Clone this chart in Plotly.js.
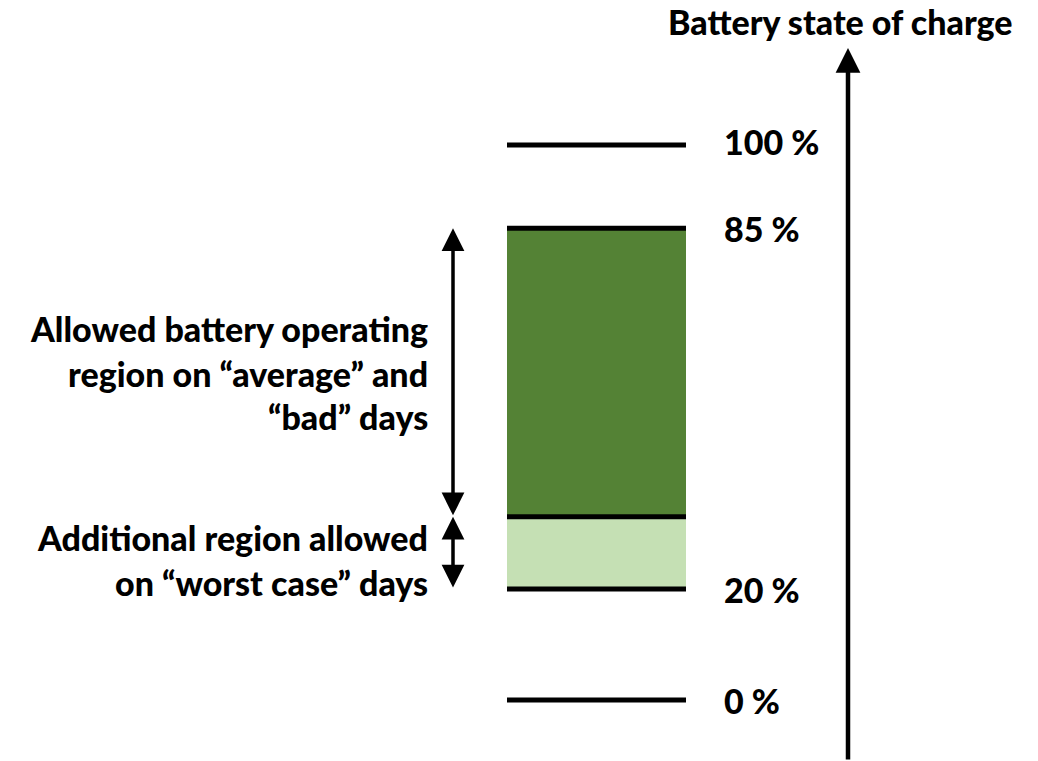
<!DOCTYPE html>
<html>
<head>
<meta charset="utf-8">
<script src="https://cdn.plot.ly/plotly-3.0.1.min.js"></script>
<style>
  body { margin: 0; background: #fff; }
  #chart { width: 1038px; height: 761px; }
</style>
</head>
<body>
<div id="chart"></div>
<script>
// state of charge levels (%)
const levels = [100, 85, 33, 20, 0];
const levelLabels = ['100 %', '85 %', '', '20 %', '0 %'];

// operating regions
const regionTop = [85, 33];
const regionBottom = [33, 20];
const regionColors = ['#548235', '#c5e0b4'];
const regionText = [
  ['Allowed battery operating', 'region on \u201caverage\u201d and', '\u201cbad\u201d days'],
  ['Additional region allowed', 'on \u201cworst case\u201d days']
];
// vertical position of each text line (in % units)
const regionTextY = [[66.9, 58.9, 51.0], [29.2, 21.1]];

const axisTitle = 'Battery state of charge';

const font = { family: 'Lato, "Open Sans", sans-serif', size: 34, color: '#000', weight: 900 };

function drawChart() {
  // coloured bands
  let bars = {
    type: 'bar',
    x: regionTop.map(() => 596.5),
    base: regionBottom,
    y: regionTop.map((t, i) => t - regionBottom[i]),
    width: regionTop.map(() => 179),
    marker: { color: regionColors, line: { width: 0 } },
    hoverinfo: 'skip'
  };

  // black level lines
  let lx = [], ly = [];
  for (let v of levels) {
    lx.push(507, 686, null);
    ly.push(v, v, null);
  }
  let lines = {
    type: 'scatter',
    mode: 'lines',
    x: lx,
    y: ly,
    line: { color: '#000', width: 5 },
    hoverinfo: 'skip'
  };

  let annotations = [];

  // level labels
  levels.forEach((v, i) => {
    if (!levelLabels[i]) return;
    annotations.push({
      x: 722, y: v, xref: 'x', yref: 'y',
      xanchor: 'left', yanchor: 'middle',
      yshift: v === 100 ? 4 : 0,
      text: levelLabels[i], showarrow: false, font: font
    });
  });

  // double arrows + region descriptions
  regionTop.forEach((t, i) => {
    annotations.push({
      x: 453, y: t, ax: 453, ay: regionBottom[i],
      xref: 'x', yref: 'y', axref: 'x', ayref: 'y',
      text: '', showarrow: true, arrowside: 'end+start',
      arrowhead: 2, arrowsize: 1.3, arrowwidth: 3.5, arrowcolor: '#000'
    });
    regionText[i].forEach((line, j) => {
      annotations.push({
        x: 430, y: regionTextY[i][j], xref: 'x', yref: 'y',
        xanchor: 'right', yanchor: 'middle',
        text: line, showarrow: false, font: font
      });
    });
  });

  // main axis arrow
  annotations.push({
    x: 848, y: 117.5, ax: 848, ay: -11,
    xref: 'x', yref: 'y', axref: 'x', ayref: 'y',
    text: '', showarrow: true,
    arrowhead: 2, arrowsize: 1.1, arrowwidth: 4.5, arrowcolor: '#000'
  });
  annotations.push({
    x: 840, y: 122.2, xref: 'x', yref: 'y',
    xanchor: 'center', yanchor: 'middle',
    text: axisTitle, showarrow: false, font: font
  });

  let layout = {
    width: 1038,
    height: 761,
    margin: { l: 0, r: 0, t: 0, b: 0 },
    paper_bgcolor: '#fff',
    plot_bgcolor: '#fff',
    showlegend: false,
    barmode: 'overlay',
    xaxis: { range: [0, 1038], visible: false, fixedrange: true },
    yaxis: { range: [-10.99, 126.13], visible: false, fixedrange: true },
    annotations: annotations
  };

  Plotly.newPlot('chart', [bars, lines], layout, { displayModeBar: false, staticPlot: true });
}

drawChart();
</script>
</body>
</html>
